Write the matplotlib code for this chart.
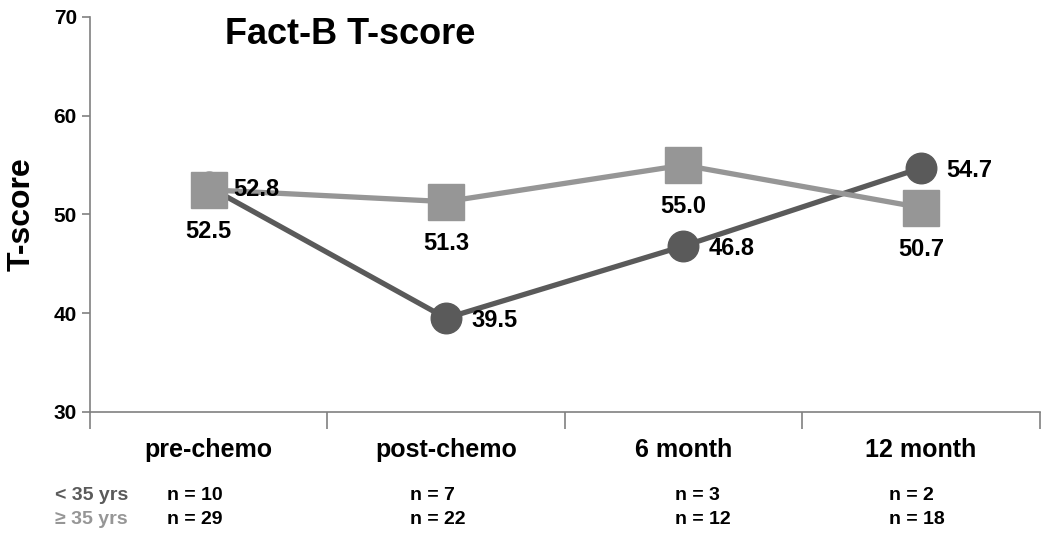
import matplotlib
matplotlib.use("Agg")
from matplotlib import pyplot as plt
from matplotlib.transforms import blended_transform_factory

plt.rcParams['font.family'] = ['Liberation Sans', 'DejaVu Sans']
plt.rcParams['font.weight'] = 'bold'

# data
categories = ["pre-chemo", "post-chemo", "6 month", "12 month"]
young = [52.8, 39.5, 46.8, 54.7]     # < 35 yrs
older = [52.5, 51.3, 55.0, 50.7]     # >= 35 yrs
n_young = [10, 7, 3, 2]
n_older = [29, 22, 12, 18]
group_labels = ["< 35 yrs", "\u2265 35 yrs"]

dark = "#5a5a5a"
light = "#969696"

fig = plt.figure(figsize=(10.5, 5.43), dpi=100)
ax = fig.add_axes([0.0857, 0.2413, 0.9043, 0.7274])

x = range(len(categories))
ax.plot(x, young, color=dark, lw=3.8, marker='o', ms=22, zorder=3)
ax.plot(x, older, color=light, lw=3.8, marker='s', ms=26, zorder=4)

for i, v in enumerate(young):
    ax.annotate(f"{v:.1f}", (i, v), xytext=(18, -2), textcoords='offset points',
                ha='left', va='center', fontsize=17, fontweight='bold', zorder=5)
for i, v in enumerate(older):
    ax.annotate(f"{v:.1f}", (i, v), xytext=(0, -30), textcoords='offset points',
                ha='center', va='center', fontsize=17, fontweight='bold', zorder=5)

ax.set_xlim(-0.5, len(categories) - 0.5)
ax.set_ylim(30, 70)
ax.set_yticks([30, 40, 50, 60, 70])
ax.tick_params(axis='y', labelsize=15, length=6, color='#808080', width=1.2)

# boundary ticks (major) and category labels (minor)
ax.set_xticks([i - 0.5 for i in range(len(categories) + 1)])
ax.set_xticklabels([])
ax.set_xticks(list(x), minor=True)
ax.set_xticklabels(categories, minor=True, fontsize=18, fontweight='bold')
ax.tick_params(axis='x', which='major', length=12, color='#808080', width=1.2)
ax.tick_params(axis='x', which='minor', length=0, pad=19)

for s in ['top', 'right']:
    ax.spines[s].set_visible(False)
for s in ['left', 'bottom']:
    ax.spines[s].set_color('#808080')
    ax.spines[s].set_linewidth(1.2)

ax.set_ylabel("T-score", fontsize=23, fontweight='bold', labelpad=12)
ax.text(0.142, 0.955, "Fact-B T-score", transform=ax.transAxes, fontsize=26,
        fontweight='bold', ha='left', va='center')

# sample sizes under the axis (left edges relative to each category)
tr = blended_transform_factory(ax.transData, fig.transFigure)
offsets = [-0.176, -0.153, -0.037, -0.132]
for i in x:
    ax.text(i + offsets[i], 1 - 495 / 543, f"n = {n_young[i]}", transform=tr,
            ha='left', va='center', fontsize=14, fontweight='bold')
    ax.text(i + offsets[i], 1 - 520 / 543, f"n = {n_older[i]}", transform=tr,
            ha='left', va='center', fontsize=14, fontweight='bold')
fig.text(55 / 1050, 1 - 495 / 543, group_labels[0], color=dark, fontsize=14,
         fontweight='bold', ha='left', va='center')
fig.text(55 / 1050, 1 - 520 / 543, group_labels[1], color=light, fontsize=14,
         fontweight='bold', ha='left', va='center')

plt.savefig("out.png", dpi=100)
